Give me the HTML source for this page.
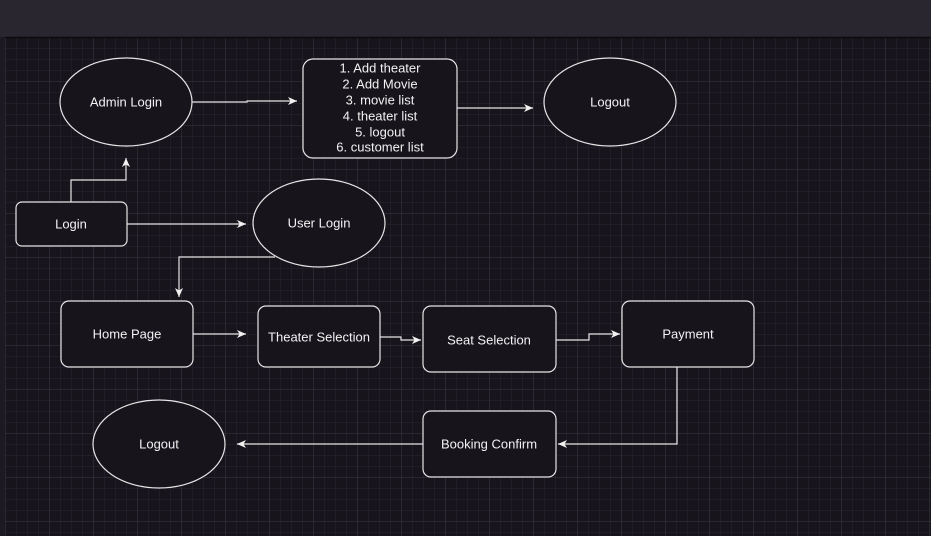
<!DOCTYPE html>
<html><head><meta charset="utf-8"><style>
html,body{margin:0;padding:0;width:931px;height:536px;overflow:hidden;background:#2a2630}
svg{display:block}
text{font-family:"Liberation Sans",Arial,sans-serif;font-size:13px;fill:#f2f2f2;text-anchor:middle;dominant-baseline:central}
</style></head><body>
<svg width="931" height="536" xmlns="http://www.w3.org/2000/svg">
<defs>
<pattern id="minor" x="5" y="37" width="11" height="11" patternUnits="userSpaceOnUse">
<path d="M0 0H11M0 0V11" stroke="#2a2633" stroke-width="1" fill="none"/>
</pattern>
<pattern id="major" x="5" y="37" width="44" height="44" patternUnits="userSpaceOnUse">
<path d="M0 0H44M0 0V44" stroke="#3e3a45" stroke-width="1" fill="none"/>
</pattern>
<marker id="a" markerWidth="10" markerHeight="10" refX="9" refY="5" orient="auto" markerUnits="userSpaceOnUse">
<path d="M0 1L9 5L0 9L2.5 5Z" fill="#f2f2f2"/>
</marker>
</defs>
<rect x="0" y="0" width="931" height="37" fill="#2a2630"/>
<rect x="0" y="37" width="5" height="499" fill="#1c1a20"/>
<rect x="5" y="37" width="926" height="499" fill="#17141c"/>
<rect x="5" y="37" width="926" height="499" fill="url(#minor)"/>
<rect x="5" y="37" width="926" height="499" fill="url(#major)"/>
<line x1="5" y1="37.5" x2="931" y2="37.5" stroke="#0c0b0e" stroke-width="1.5"/>
<g fill="#17141c" stroke="#e6e6e6" stroke-width="1.2">
<ellipse cx="126" cy="102" rx="66" ry="44"/>
<rect x="303" y="59" width="154" height="99" rx="10"/>
<ellipse cx="610" cy="102" rx="66" ry="44"/>
<rect x="16" y="202" width="111" height="44" rx="6"/>
<ellipse cx="319" cy="223" rx="66" ry="44"/>
<rect x="61" y="301" width="132" height="66" rx="8"/>
<rect x="258" y="306" width="122" height="61" rx="8"/>
<rect x="423" y="306" width="133" height="66" rx="8"/>
<rect x="622" y="301" width="132" height="66" rx="8"/>
<rect x="423" y="411" width="133" height="66" rx="8"/>
<ellipse cx="159" cy="444" rx="66" ry="44"/>
</g>
<g fill="none" stroke="#e6e6e6" stroke-width="1.2">
<path d="M192 102H247V101H297" marker-end="url(#a)"/>
<path d="M457 108H533" marker-end="url(#a)"/>
<path d="M71 202V180H126V158" marker-end="url(#a)"/>
<path d="M127 224H246" marker-end="url(#a)"/>
<path d="M275 257H179V297" marker-end="url(#a)"/>
<path d="M193 334H246" marker-end="url(#a)"/>
<path d="M380 337H401V340H421" marker-end="url(#a)"/>
<path d="M556 340H589V334H620" marker-end="url(#a)"/>
<path d="M677 367V444H558" marker-end="url(#a)"/>
<path d="M423 444H237" marker-end="url(#a)"/>
</g>
<text x="126" y="102">Admin Login</text>
<text x="380" y="68">1. Add theater</text>
<text x="380" y="84">2. Add Movie</text>
<text x="380" y="100">3. movie list</text>
<text x="380" y="116">4. theater list</text>
<text x="380" y="132">5. logout</text>
<text x="380" y="147">6. customer list</text>
<text x="610" y="102">Logout</text>
<text x="71" y="224">Login</text>
<text x="319" y="223">User Login</text>
<text x="127" y="334">Home Page</text>
<text x="319" y="337">Theater Selection</text>
<text x="489" y="340">Seat Selection</text>
<text x="688" y="334">Payment</text>
<text x="489" y="444">Booking Confirm</text>
<text x="159" y="444">Logout</text>
</svg>
</body></html>
